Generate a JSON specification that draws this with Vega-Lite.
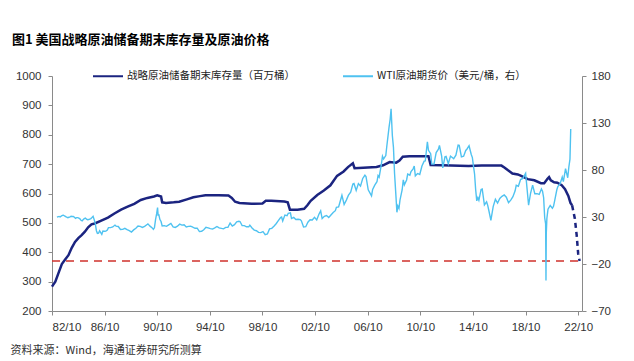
{
  "$schema": "https://vega.github.io/schema/vega-lite/v6.json",
  "width": 530,
  "height": 235,
  "autosize": {"type": "none"},
  "padding": {"left": 52, "top": 76, "right": 52, "bottom": 50},
  "background": "white",
  "config": {
    "view": {"stroke": null},
    "axis": {"grid": false, "domainColor": "#8a8a8a", "tickColor": "#8a8a8a", "labelColor": "#333333", "labelFont": "Liberation Sans", "labelFontSize": 11.5, "tickSize": 4, "labelOverlap": false},
    "legend": {"labelFont": "Noto Sans CJK SC", "labelFontSize": 10.5, "labelColor": "#222222", "labelLimit": 0}
  },
  "title": {
    "text": "图1  美国战略原油储备期末库存量及原油价格",
    "anchor": "start",
    "frame": "group",
    "dx": -40,
    "offset": 13,
    "font": "Noto Sans CJK SC",
    "fontSize": 13,
    "fontWeight": "bold",
    "color": "#000000"
  },
  "datasets": {
    "spr": [
      {"d": "1982-10-01", "v": 283}, {"d": "1983-01-01", "v": 300}, {"d": "1983-04-01", "v": 330}, {"d": "1983-07-01", "v": 360},
      {"d": "1983-10-01", "v": 375}, {"d": "1984-01-01", "v": 390}, {"d": "1984-04-01", "v": 415}, {"d": "1984-07-01", "v": 435},
      {"d": "1984-10-01", "v": 448}, {"d": "1985-01-01", "v": 458}, {"d": "1985-04-01", "v": 470}, {"d": "1985-07-01", "v": 485},
      {"d": "1985-10-01", "v": 495}, {"d": "1986-01-01", "v": 498}, {"d": "1986-07-01", "v": 508}, {"d": "1987-01-01", "v": 518},
      {"d": "1987-07-01", "v": 532}, {"d": "1988-01-01", "v": 545}, {"d": "1988-07-01", "v": 555}, {"d": "1989-01-01", "v": 565},
      {"d": "1989-07-01", "v": 578}, {"d": "1990-01-01", "v": 585}, {"d": "1990-07-01", "v": 590}, {"d": "1990-10-01", "v": 594},
      {"d": "1991-01-15", "v": 590}, {"d": "1991-02-15", "v": 570}, {"d": "1991-06-01", "v": 568}, {"d": "1992-01-01", "v": 570},
      {"d": "1992-06-01", "v": 572}, {"d": "1993-01-01", "v": 580}, {"d": "1993-07-01", "v": 587}, {"d": "1994-01-01", "v": 591},
      {"d": "1994-06-01", "v": 594}, {"d": "1995-06-01", "v": 594}, {"d": "1996-03-01", "v": 593}, {"d": "1996-06-01", "v": 585},
      {"d": "1996-09-01", "v": 572}, {"d": "1997-01-01", "v": 568}, {"d": "1997-12-01", "v": 565}, {"d": "1998-10-01", "v": 566},
      {"d": "1999-01-01", "v": 575}, {"d": "1999-06-01", "v": 575}, {"d": "2000-06-01", "v": 573}, {"d": "2000-09-01", "v": 570},
      {"d": "2000-11-01", "v": 545}, {"d": "2001-06-01", "v": 545}, {"d": "2001-12-01", "v": 548}, {"d": "2002-03-01", "v": 560},
      {"d": "2002-06-01", "v": 575}, {"d": "2002-12-01", "v": 595}, {"d": "2003-06-01", "v": 610}, {"d": "2003-12-01", "v": 628},
      {"d": "2004-06-01", "v": 660}, {"d": "2004-12-01", "v": 675}, {"d": "2005-04-01", "v": 690}, {"d": "2005-08-15", "v": 703},
      {"d": "2005-10-01", "v": 686}, {"d": "2006-06-01", "v": 688}, {"d": "2007-06-01", "v": 690}, {"d": "2007-12-01", "v": 696},
      {"d": "2008-06-01", "v": 707}, {"d": "2008-12-01", "v": 705}, {"d": "2009-03-01", "v": 712}, {"d": "2009-06-01", "v": 725},
      {"d": "2009-12-01", "v": 727}, {"d": "2010-12-01", "v": 727}, {"d": "2011-05-15", "v": 727}, {"d": "2011-07-15", "v": 697},
      {"d": "2012-06-01", "v": 696}, {"d": "2014-06-01", "v": 694}, {"d": "2015-06-01", "v": 695}, {"d": "2016-06-01", "v": 695},
      {"d": "2016-12-01", "v": 695}, {"d": "2017-03-01", "v": 688}, {"d": "2017-06-01", "v": 679}, {"d": "2017-10-01", "v": 668},
      {"d": "2018-03-01", "v": 665}, {"d": "2018-06-01", "v": 660}, {"d": "2018-12-01", "v": 649}, {"d": "2019-06-01", "v": 645},
      {"d": "2019-12-01", "v": 635}, {"d": "2020-03-01", "v": 635}, {"d": "2020-06-01", "v": 650}, {"d": "2020-07-15", "v": 656},
      {"d": "2020-09-01", "v": 645}, {"d": "2020-12-01", "v": 638}, {"d": "2021-03-01", "v": 637}, {"d": "2021-07-01", "v": 628},
      {"d": "2021-10-01", "v": 615}, {"d": "2022-01-01", "v": 592}, {"d": "2022-03-01", "v": 568}, {"d": "2022-04-15", "v": 560}
    ],
    "proj": [
      {"d": "2022-04-15", "v": 560}, {"d": "2022-07-01", "v": 514}, {"d": "2022-08-20", "v": 458}, {"d": "2022-10-01", "v": 395}, {"d": "2022-11-10", "v": 370}
    ],
    "level": [
      {"d": "1982-10-01", "v": 370}, {"d": "2023-01-15", "v": 370}
    ],
    "wti": [
      {"d": "1983-02-15", "p": 29.8}, {"d": "1983-04-15", "p": 30.6}, {"d": "1983-05-15", "p": 30.0}, {"d": "1983-06-15", "p": 31.0},
      {"d": "1983-07-15", "p": 31.7}, {"d": "1983-08-15", "p": 31.9}, {"d": "1983-09-15", "p": 31.1}, {"d": "1983-10-15", "p": 30.4},
      {"d": "1983-11-15", "p": 29.8}, {"d": "1983-12-15", "p": 29.3}, {"d": "1984-01-15", "p": 29.7}, {"d": "1984-02-15", "p": 30.1},
      {"d": "1984-03-15", "p": 30.8}, {"d": "1984-04-15", "p": 30.6}, {"d": "1984-05-15", "p": 30.5}, {"d": "1984-06-15", "p": 29.8},
      {"d": "1984-07-15", "p": 28.6}, {"d": "1984-08-15", "p": 29.3}, {"d": "1984-09-15", "p": 29.3}, {"d": "1984-10-15", "p": 28.8},
      {"d": "1984-11-15", "p": 28.1}, {"d": "1984-12-15", "p": 26.5}, {"d": "1985-01-15", "p": 25.9}, {"d": "1985-02-15", "p": 27.3},
      {"d": "1985-03-15", "p": 28.2}, {"d": "1985-04-15", "p": 28.8}, {"d": "1985-05-15", "p": 27.6}, {"d": "1985-06-15", "p": 27.1},
      {"d": "1985-07-15", "p": 27.3}, {"d": "1985-08-15", "p": 27.8}, {"d": "1985-09-15", "p": 28.3}, {"d": "1985-10-15", "p": 29.5},
      {"d": "1985-11-15", "p": 30.8}, {"d": "1985-12-15", "p": 27.2}, {"d": "1986-01-15", "p": 22.9}, {"d": "1986-02-15", "p": 15.4},
      {"d": "1986-03-15", "p": 12.6}, {"d": "1986-04-15", "p": 12.8}, {"d": "1986-05-15", "p": 15.4}, {"d": "1986-06-15", "p": 13.5},
      {"d": "1986-07-15", "p": 11.6}, {"d": "1986-08-15", "p": 15.1}, {"d": "1986-09-15", "p": 14.9}, {"d": "1986-10-15", "p": 14.9},
      {"d": "1986-11-15", "p": 15.2}, {"d": "1986-12-15", "p": 16.1}, {"d": "1987-01-15", "p": 18.7}, {"d": "1987-03-15", "p": 18.7},
      {"d": "1987-05-15", "p": 19.4}, {"d": "1987-07-15", "p": 21.4}, {"d": "1987-08-15", "p": 20.3}, {"d": "1987-10-15", "p": 19.9},
      {"d": "1987-12-15", "p": 16.7}, {"d": "1988-02-15", "p": 16.8}, {"d": "1988-04-15", "p": 17.9}, {"d": "1988-06-15", "p": 16.5},
      {"d": "1988-08-15", "p": 15.5}, {"d": "1988-10-15", "p": 14.0}, {"d": "1988-12-15", "p": 16.3}, {"d": "1989-02-15", "p": 18.0},
      {"d": "1989-04-15", "p": 20.4}, {"d": "1989-06-15", "p": 20.0}, {"d": "1989-08-15", "p": 18.9}, {"d": "1989-10-15", "p": 20.1},
      {"d": "1989-12-15", "p": 21.8}, {"d": "1990-01-15", "p": 22.7}, {"d": "1990-03-15", "p": 20.3}, {"d": "1990-05-15", "p": 18.4},
      {"d": "1990-06-15", "p": 16.9}, {"d": "1990-07-15", "p": 18.5}, {"d": "1990-08-15", "p": 27.3}, {"d": "1990-09-15", "p": 33.5},
      {"d": "1990-10-10", "p": 40.0}, {"d": "1990-10-25", "p": 32.0}, {"d": "1990-11-15", "p": 32.3}, {"d": "1990-12-15", "p": 27.3},
      {"d": "1991-01-15", "p": 25.2}, {"d": "1991-02-15", "p": 20.5}, {"d": "1991-04-15", "p": 20.8}, {"d": "1991-06-15", "p": 20.1},
      {"d": "1991-08-15", "p": 21.7}, {"d": "1991-10-15", "p": 23.2}, {"d": "1991-12-15", "p": 19.5}, {"d": "1992-02-15", "p": 18.9},
      {"d": "1992-04-15", "p": 20.2}, {"d": "1992-06-15", "p": 22.4}, {"d": "1992-08-15", "p": 21.4}, {"d": "1992-10-15", "p": 21.7},
      {"d": "1992-12-15", "p": 19.4}, {"d": "1993-02-15", "p": 20.0}, {"d": "1993-04-15", "p": 20.3}, {"d": "1993-06-15", "p": 19.1},
      {"d": "1993-08-15", "p": 18.0}, {"d": "1993-10-15", "p": 18.1}, {"d": "1993-12-15", "p": 14.5}, {"d": "1994-02-15", "p": 14.8},
      {"d": "1994-04-15", "p": 16.4}, {"d": "1994-06-15", "p": 19.1}, {"d": "1994-08-15", "p": 18.4}, {"d": "1994-10-15", "p": 17.7},
      {"d": "1994-12-15", "p": 17.2}, {"d": "1995-02-15", "p": 18.5}, {"d": "1995-04-15", "p": 19.9}, {"d": "1995-06-15", "p": 18.4},
      {"d": "1995-08-15", "p": 17.9}, {"d": "1995-10-15", "p": 17.4}, {"d": "1995-12-15", "p": 19.0}, {"d": "1996-02-15", "p": 19.1},
      {"d": "1996-04-15", "p": 23.6}, {"d": "1996-06-15", "p": 20.4}, {"d": "1996-08-15", "p": 21.9}, {"d": "1996-10-15", "p": 24.9},
      {"d": "1996-12-15", "p": 25.4}, {"d": "1997-01-15", "p": 25.2}, {"d": "1997-03-15", "p": 20.9}, {"d": "1997-05-15", "p": 20.8},
      {"d": "1997-07-15", "p": 19.6}, {"d": "1997-09-15", "p": 19.6}, {"d": "1997-10-15", "p": 21.3}, {"d": "1997-12-15", "p": 18.3},
      {"d": "1998-02-15", "p": 16.1}, {"d": "1998-04-15", "p": 15.4}, {"d": "1998-06-15", "p": 13.7}, {"d": "1998-08-15", "p": 13.4},
      {"d": "1998-10-15", "p": 14.4}, {"d": "1998-12-15", "p": 11.3}, {"d": "1999-02-15", "p": 12.0}, {"d": "1999-04-15", "p": 17.3},
      {"d": "1999-06-15", "p": 17.9}, {"d": "1999-08-15", "p": 20.1}, {"d": "1999-10-15", "p": 22.8}, {"d": "1999-12-15", "p": 26.1},
      {"d": "2000-02-15", "p": 29.4}, {"d": "2000-03-15", "p": 29.9}, {"d": "2000-04-15", "p": 25.7}, {"d": "2000-06-15", "p": 32.0},
      {"d": "2000-08-15", "p": 31.3}, {"d": "2000-09-15", "p": 33.9}, {"d": "2000-11-15", "p": 34.4}, {"d": "2000-12-15", "p": 28.4},
      {"d": "2001-02-15", "p": 29.6}, {"d": "2001-04-15", "p": 27.4}, {"d": "2001-06-15", "p": 27.6}, {"d": "2001-08-15", "p": 27.2},
      {"d": "2001-09-15", "p": 25.9}, {"d": "2001-11-15", "p": 19.4}, {"d": "2002-01-15", "p": 19.7}, {"d": "2002-03-15", "p": 24.5},
      {"d": "2002-05-15", "p": 27.0}, {"d": "2002-07-15", "p": 26.9}, {"d": "2002-09-15", "p": 29.7}, {"d": "2002-11-15", "p": 26.9},
      {"d": "2003-01-15", "p": 32.9}, {"d": "2003-03-05", "p": 36.5}, {"d": "2003-04-15", "p": 28.3}, {"d": "2003-06-15", "p": 30.7},
      {"d": "2003-08-15", "p": 31.6}, {"d": "2003-10-15", "p": 29.5}, {"d": "2003-12-15", "p": 32.1}, {"d": "2004-02-15", "p": 34.7},
      {"d": "2004-04-15", "p": 36.7}, {"d": "2004-05-15", "p": 40.3}, {"d": "2004-07-15", "p": 40.7}, {"d": "2004-08-15", "p": 44.9},
      {"d": "2004-10-15", "p": 53.1}, {"d": "2004-12-15", "p": 43.3}, {"d": "2005-02-15", "p": 48.0}, {"d": "2005-04-15", "p": 53.2},
      {"d": "2005-06-15", "p": 56.5}, {"d": "2005-08-15", "p": 65.0}, {"d": "2005-09-15", "p": 65.6}, {"d": "2005-11-15", "p": 58.3},
      {"d": "2006-01-15", "p": 65.5}, {"d": "2006-03-15", "p": 62.9}, {"d": "2006-05-15", "p": 71.0}, {"d": "2006-07-15", "p": 74.4},
      {"d": "2006-08-15", "p": 73.0}, {"d": "2006-10-15", "p": 58.9}, {"d": "2007-01-15", "p": 52.5}, {"d": "2007-02-15", "p": 59.3},
      {"d": "2007-04-15", "p": 63.9}, {"d": "2007-06-15", "p": 67.5}, {"d": "2007-07-15", "p": 74.1}, {"d": "2007-08-15", "p": 72.4},
      {"d": "2007-10-15", "p": 86.0}, {"d": "2007-11-15", "p": 94.6}, {"d": "2007-12-15", "p": 91.7}, {"d": "2008-02-15", "p": 95.4},
      {"d": "2008-03-15", "p": 105.5}, {"d": "2008-05-15", "p": 125.4}, {"d": "2008-06-15", "p": 133.9}, {"d": "2008-07-11", "p": 145.0},
      {"d": "2008-08-15", "p": 116.7}, {"d": "2008-09-15", "p": 104.1}, {"d": "2008-10-15", "p": 76.6}, {"d": "2008-11-15", "p": 57.3},
      {"d": "2008-12-20", "p": 35.0}, {"d": "2009-01-15", "p": 41.7}, {"d": "2009-02-15", "p": 39.1}, {"d": "2009-03-15", "p": 47.9},
      {"d": "2009-05-15", "p": 59.0}, {"d": "2009-06-15", "p": 69.6}, {"d": "2009-07-15", "p": 64.2}, {"d": "2009-09-15", "p": 69.4},
      {"d": "2009-10-15", "p": 75.7}, {"d": "2009-12-15", "p": 74.5}, {"d": "2010-01-15", "p": 78.3}, {"d": "2010-03-15", "p": 81.2},
      {"d": "2010-04-15", "p": 84.3}, {"d": "2010-05-15", "p": 73.7}, {"d": "2010-07-15", "p": 76.3}, {"d": "2010-09-15", "p": 75.3},
      {"d": "2010-11-15", "p": 84.3}, {"d": "2011-01-15", "p": 89.4}, {"d": "2011-02-15", "p": 89.6}, {"d": "2011-04-15", "p": 110.0},
      {"d": "2011-05-15", "p": 100.9}, {"d": "2011-07-15", "p": 97.3}, {"d": "2011-08-15", "p": 86.3}, {"d": "2011-10-15", "p": 86.3},
      {"d": "2011-12-15", "p": 98.6}, {"d": "2012-02-15", "p": 102.2}, {"d": "2012-03-15", "p": 106.2}, {"d": "2012-05-15", "p": 94.7},
      {"d": "2012-06-15", "p": 82.3}, {"d": "2012-08-15", "p": 94.1}, {"d": "2012-09-15", "p": 94.5}, {"d": "2012-11-15", "p": 86.7},
      {"d": "2013-01-15", "p": 94.8}, {"d": "2013-03-15", "p": 93.1}, {"d": "2013-04-15", "p": 92.0}, {"d": "2013-06-15", "p": 95.8},
      {"d": "2013-08-15", "p": 106.6}, {"d": "2013-09-15", "p": 106.3}, {"d": "2013-11-15", "p": 93.9}, {"d": "2014-01-15", "p": 94.6},
      {"d": "2014-03-15", "p": 100.8}, {"d": "2014-04-15", "p": 102.1}, {"d": "2014-06-15", "p": 105.8}, {"d": "2014-08-15", "p": 96.5},
      {"d": "2014-09-15", "p": 93.2}, {"d": "2014-10-15", "p": 84.4}, {"d": "2014-11-15", "p": 75.8}, {"d": "2014-12-15", "p": 59.3},
      {"d": "2015-01-15", "p": 47.2}, {"d": "2015-02-15", "p": 50.6}, {"d": "2015-03-15", "p": 47.8}, {"d": "2015-05-15", "p": 59.3},
      {"d": "2015-06-15", "p": 59.8}, {"d": "2015-08-15", "p": 42.9}, {"d": "2015-10-15", "p": 46.2}, {"d": "2015-11-15", "p": 42.4},
      {"d": "2015-12-15", "p": 37.2}, {"d": "2016-02-11", "p": 26.5}, {"d": "2016-04-15", "p": 41.1}, {"d": "2016-06-15", "p": 48.8},
      {"d": "2016-08-15", "p": 44.8}, {"d": "2016-10-15", "p": 49.8}, {"d": "2016-12-15", "p": 52.0}, {"d": "2017-02-15", "p": 53.5},
      {"d": "2017-04-15", "p": 51.1}, {"d": "2017-06-15", "p": 45.2}, {"d": "2017-08-15", "p": 48.0}, {"d": "2017-10-15", "p": 51.6},
      {"d": "2017-12-15", "p": 57.9}, {"d": "2018-01-15", "p": 63.7}, {"d": "2018-03-15", "p": 62.7}, {"d": "2018-05-15", "p": 69.9},
      {"d": "2018-07-15", "p": 71.0}, {"d": "2018-10-03", "p": 76.4}, {"d": "2018-12-24", "p": 42.5}, {"d": "2019-02-15", "p": 54.9},
      {"d": "2019-04-15", "p": 63.9}, {"d": "2019-06-15", "p": 54.7}, {"d": "2019-08-15", "p": 54.8}, {"d": "2019-10-15", "p": 54.0},
      {"d": "2019-12-15", "p": 59.8}, {"d": "2020-01-15", "p": 57.5}, {"d": "2020-02-15", "p": 50.5}, {"d": "2020-03-15", "p": 29.2},
      {"d": "2020-04-10", "p": 22.8}, {"d": "2020-04-20", "p": -37.6}, {"d": "2020-04-28", "p": 12.3}, {"d": "2020-05-15", "p": 28.5},
      {"d": "2020-06-15", "p": 38.3}, {"d": "2020-08-15", "p": 42.3}, {"d": "2020-10-15", "p": 39.4}, {"d": "2020-11-15", "p": 41.4},
      {"d": "2020-12-15", "p": 47.0}, {"d": "2021-02-15", "p": 59.0}, {"d": "2021-03-15", "p": 62.4}, {"d": "2021-05-15", "p": 65.2},
      {"d": "2021-07-15", "p": 72.5}, {"d": "2021-08-15", "p": 67.7}, {"d": "2021-10-15", "p": 81.5}, {"d": "2021-12-15", "p": 71.7},
      {"d": "2022-01-15", "p": 83.2}, {"d": "2022-02-15", "p": 91.6}, {"d": "2022-03-08", "p": 123.7}
    ]
  },
  "layer": [
    {
      "layer": [
        {
          "data": {"name": "spr"},
          "mark": {"type": "line", "strokeWidth": 2.5, "interpolate": "linear"},
          "encoding": {
            "x": {
              "field": "d", "type": "temporal",
              "scale": {"type": "utc", "domain": [{"year": 1982, "month": 10, "date": 1, "utc": true}, {"year": 2023, "month": 1, "date": 15, "utc": true}]},
              "axis": {
                "values": [
                  {"year": 1982, "month": 10, "date": 1, "utc": true}, {"year": 1986, "month": 10, "date": 1, "utc": true},
                  {"year": 1990, "month": 10, "date": 1, "utc": true}, {"year": 1994, "month": 10, "date": 1, "utc": true},
                  {"year": 1998, "month": 10, "date": 1, "utc": true}, {"year": 2002, "month": 10, "date": 1, "utc": true},
                  {"year": 2006, "month": 10, "date": 1, "utc": true}, {"year": 2010, "month": 10, "date": 1, "utc": true},
                  {"year": 2014, "month": 10, "date": 1, "utc": true}, {"year": 2018, "month": 10, "date": 1, "utc": true},
                  {"year": 2022, "month": 10, "date": 1, "utc": true}
                ],
                "format": "%y/%m",
                "labelPadding": 6,
                "title": "资料来源：Wind，海通证券研究所测算",
                "titleFont": "Noto Sans CJK SC",
                "titleFontSize": 11,
                "titleFontWeight": "normal",
                "titleColor": "#333333",
                "titleAnchor": "start",
                "titleAlign": "left",
                "titleBaseline": "middle",
                "titleX": -42,
                "titleY": 39
              }
            },
            "y": {
              "field": "v", "type": "quantitative",
              "scale": {"domain": [200, 1000], "nice": false, "zero": false},
              "axis": {"values": [200, 300, 400, 500, 600, 700, 800, 900, 1000], "format": "d", "title": null, "orient": "left", "labelOverlap": false, "labelPadding": 7}
            },
            "color": {
              "datum": "战略原油储备期末库存量（百万桶）",
              "type": "nominal",
              "scale": {"domain": ["战略原油储备期末库存量（百万桶）", "WTI原油期货价（美元/桶，右）"], "range": ["#1B2480", "#4FC2F0"]},
              "legend": {
                "title": null,
                "orient": "none",
                "direction": "horizontal",
                "legendX": 40,
                "legendY": -16,
                "symbolType": "stroke",
                "symbolSize": 900,
                "symbolStrokeWidth": 2,
                "columnPadding": 44,
                "labelOffset": 3
              }
            }
          }
        },
        {
          "data": {"name": "proj"},
          "mark": {"type": "line", "strokeWidth": 2.5, "strokeDash": [5, 4], "color": "#1B2480"},
          "encoding": {
            "x": {"field": "d", "type": "temporal"},
            "y": {
              "field": "v", "type": "quantitative",
              "axis": {"values": [200, 300, 400, 500, 600, 700, 800, 900, 1000], "format": "d", "title": null, "orient": "left", "labelOverlap": false, "labelPadding": 7}
            }
          }
        },
        {
          "data": {"name": "level"},
          "mark": {"type": "line", "strokeWidth": 1.6, "strokeDash": [8, 6], "color": "#D0322C"},
          "encoding": {
            "x": {"field": "d", "type": "temporal"},
            "y": {
              "field": "v", "type": "quantitative",
              "axis": {"values": [200, 300, 400, 500, 600, 700, 800, 900, 1000], "format": "d", "title": null, "orient": "left", "labelOverlap": false, "labelPadding": 7}
            }
          }
        }
      ]
    },
    {
      "data": {"name": "wti"},
      "mark": {"type": "line", "strokeWidth": 1.4},
      "encoding": {
        "x": {"field": "d", "type": "temporal"},
        "y": {
          "field": "p", "type": "quantitative",
          "scale": {"domain": [-70, 180], "nice": false, "zero": false},
          "axis": {"values": [-70, -20, 30, 80, 130, 180], "title": null, "orient": "right", "labelOverlap": false, "labelPadding": 5}
        },
        "color": {"datum": "WTI原油期货价（美元/桶，右）", "type": "nominal"}
      }
    }
  ],
  "resolve": {"scale": {"y": "independent"}}
}
